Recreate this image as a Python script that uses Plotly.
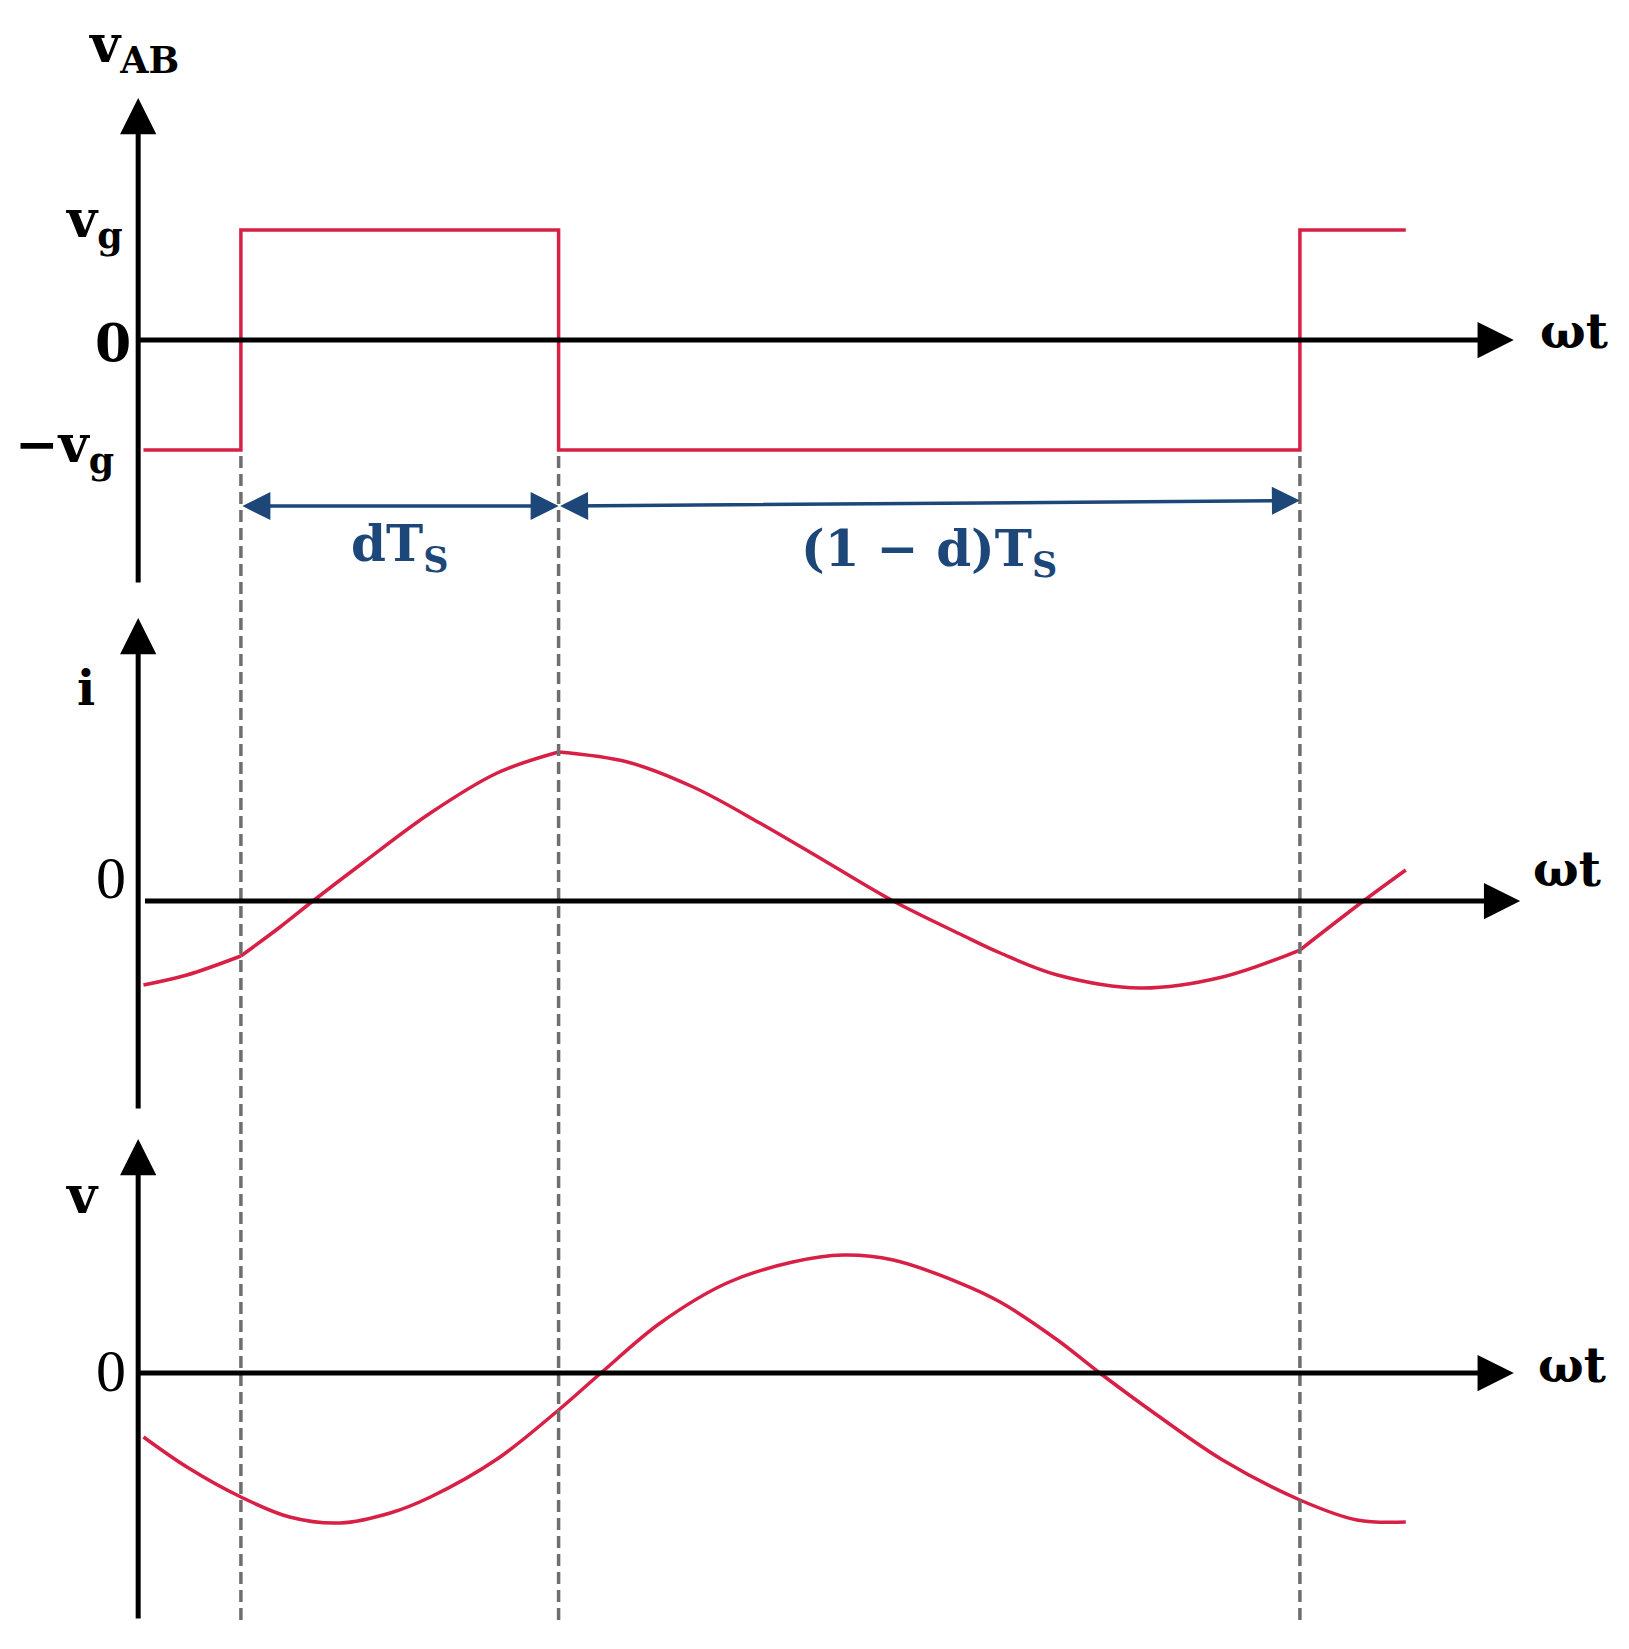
import plotly.graph_objects as go

# time axis in units of Ts, switching instants (d ~ 0.3)
t_switch = [0.1, 0.4, 1.1]

# v_AB square wave (units of vg)
vab_t = [0.008, 0.1, 0.1, 0.4, 0.4, 1.1, 1.1, 1.2]
vab_val = [-1, -1, 1, 1, -1, -1, 1, 1]

# inductor current i
i_t = [0.008, 0.049, 0.1, 0.137, 0.168, 0.215, 0.279, 0.342, 0.4,
       0.465, 0.527, 0.59, 0.653, 0.716, 0.779, 0.817, 0.871, 0.949, 1.027, 1.1,
       1.16, 1.2]
i_val = [-0.84, -0.74, -0.55, -0.26, 0.0, 0.38, 0.88, 1.28, 1.49,
         1.39, 1.14, 0.78, 0.39, 0.0, -0.33, -0.52, -0.74, -0.87, -0.76, -0.49,
         0.0, 0.31]

# output voltage v
v_t = [0.008, 0.049, 0.1, 0.146, 0.194, 0.241, 0.279, 0.342, 0.4, 0.44,
       0.496, 0.559, 0.621, 0.669, 0.716, 0.779, 0.817, 0.871, 0.911, 0.965,
       1.027, 1.1, 1.154, 1.2]
v_val = [-0.64, -0.94, -1.24, -1.44, -1.5, -1.4, -1.24, -0.86, -0.37, 0.0,
         0.5, 0.9, 1.11, 1.18, 1.13, 0.9, 0.71, 0.33, 0.0, -0.42,
         -0.87, -1.27, -1.47, -1.49]

RED = "#d81f45"
BLUE = "#1d4778"
GRAY = "#6e6e6e"
SERIF = "DejaVu Serif"
TIMES = "Liberation Serif"
AX_X = 0.003  # where the vertical axes sit

fig = go.Figure()

fig.add_trace(go.Scatter(x=vab_t, y=vab_val, mode="lines",
                         line=dict(color=RED, width=3.5), xaxis="x", yaxis="y"))


def split_at_kinks(ts, vals):
    # one segment per interval between switching instants, so the kinks stay sharp
    segs, cur_t, cur_v = [], [], []
    for t, v in zip(ts, vals):
        cur_t.append(t)
        cur_v.append(v)
        if t in t_switch:
            segs.append((cur_t, cur_v))
            cur_t, cur_v = [t], [v]
    segs.append((cur_t, cur_v))
    return [s for s in segs if len(s[0]) > 1]


for st, sv in split_at_kinks(i_t, i_val):
    fig.add_trace(go.Scatter(x=st, y=sv, mode="lines", line_shape="spline",
                             line=dict(color=RED, width=3.5), xaxis="x", yaxis="y2"))

fig.add_trace(go.Scatter(x=v_t, y=v_val, mode="lines", line_shape="spline",
                         line=dict(color=RED, width=3.5), xaxis="x", yaxis="y3"))

# dashed switching lines across all three panels
for ts in t_switch:
    fig.add_shape(type="line", xref="x", yref="paper", x0=ts, x1=ts,
                  y0=0.0129, y1=0.728, line=dict(color=GRAY, width=3.5, dash="12px,6px"))

ann = []


def arrow(x0, y0, x1, y1, yref, color="black", width=5, size=1.45, both=False):
    d = dict(x=x1, y=y1, ax=x0, ay=y0, xref="x", yref=yref, axref="x", ayref=yref,
             text="", showarrow=True, arrowhead=2, arrowsize=size, arrowwidth=width,
             arrowcolor=color, standoff=0, startstandoff=0)
    if both:
        d.update(arrowside="end+start", startarrowhead=2, startarrowsize=size)
    ann.append(d)


# axes with arrow heads
arrow(AX_X, -2.218, AX_X, 2.2, "y")
arrow(AX_X, 0, 1.302, 0, "y")
arrow(AX_X, -2.09, AX_X, 2.83, "y2")
arrow(0.008, 0, 1.308, 0, "y2")
arrow(AX_X, -2.47, AX_X, 2.34, "y3")
arrow(AX_X, 0, 1.302, 0, "y3")

# dTs and (1-d)Ts dimension arrows
arrow(t_switch[0], -1.51, t_switch[1], -1.51, "y", color=BLUE, width=3.5, size=1.6, both=True)
arrow(t_switch[1], -1.51, t_switch[2], -1.46, "y", color=BLUE, width=3.5, size=1.6, both=True)


def label(x, y, yref, text, size=52, family=SERIF, color="black"):
    ann.append(dict(x=x, y=y, xref="x", yref=yref, text=text, showarrow=False,
                    xanchor="center", yanchor="middle",
                    font=dict(family=family, size=size, color=color)))


label(-0.001, 2.66, "y", "<b>v<sub>AB</sub></b>", size=52)
label(-0.038, 1.07, "y", "<b>v<sub>g</sub></b>", size=52)
label(-0.021, -0.02, "y", "<b>0</b>", size=52)
label(-0.067, -0.98, "y", "<b>−v<sub>g</sub></b>", size=52)
label(1.359, 0.08, "y", "<b>ωt</b>", size=48)
label(0.25, -1.88, "y", "<b>dT<sub>S</sub></b>", size=50, color=BLUE)
label(0.75, -1.93, "y", "<b>(1 − d)T<sub>S</sub></b>", size=50, color=BLUE)

label(-0.046, 2.13, "y2", "<b>i</b>", size=48)
label(-0.023, 0.23, "y2", "0", size=60, family=TIMES)
label(1.352, 0.32, "y2", "<b>ωt</b>", size=48)

label(-0.05, 1.79, "y3", "<b>v</b>", size=52)
label(-0.023, 0.02, "y3", "0", size=60, family=TIMES)
label(1.357, 0.08, "y3", "<b>ωt</b>", size=48)

# the page body keeps an 8 px margin, so the figure is 16 px smaller than the window
hidden = dict(visible=False, showgrid=False, zeroline=False)
fig.update_layout(
    width=1613, height=1633,
    margin=dict(l=0, r=0, t=0, b=0),
    paper_bgcolor="white", plot_bgcolor="white",
    showlegend=False,
    xaxis=dict(range=[-0.11992, 1.40321], domain=[0, 1], **hidden),
    yaxis=dict(range=[-2.3636, 3.01818], domain=[0.63748, 1], anchor="x", **hidden),
    yaxis2=dict(range=[-2.24, 3.01], domain=[0.31598, 0.63748], anchor="x", **hidden),
    yaxis3=dict(range=[-2.68, 2.48], domain=[0, 0.31598], anchor="x", **hidden),
    annotations=ann,
)

fig.write_html("out.html")
